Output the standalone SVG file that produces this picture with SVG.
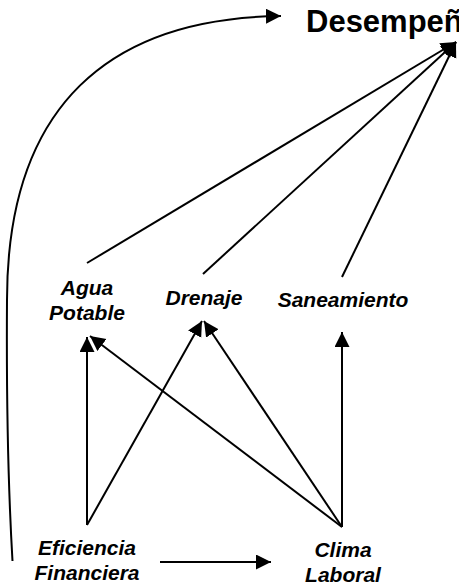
<svg xmlns="http://www.w3.org/2000/svg" width="459" height="586" viewBox="0 0 459 586">
<style>
.lbl{font-family:"Liberation Sans",Arial,sans-serif;font-weight:bold;font-style:italic;font-size:21px;fill:#000;text-anchor:middle}
.title{font-family:"Liberation Sans",Arial,sans-serif;font-weight:bold;font-size:31px;fill:#000}
.c{fill:none;stroke:#000;stroke-width:2}
</style>
<defs>
<marker id="ah" markerUnits="userSpaceOnUse" markerWidth="16" markerHeight="16" refX="15" refY="7.5" orient="auto" viewBox="0 0 16 16">
<path d="M0,0 L15,7.5 L0,15 z" fill="#000"/>
</marker>
</defs>
<rect width="459" height="586" fill="#fff"/>
<g id="connectors">
<path class="c" d="M12.5 561 Q6 450 7 300 C7 105 110 18 281 16" marker-end="url(#ah)"/>
<line class="c" x1="87" y1="263" x2="456" y2="42" marker-end="url(#ah)"/>
<line class="c" x1="203" y1="274" x2="456" y2="42" marker-end="url(#ah)"/>
<line class="c" x1="342" y1="277" x2="456" y2="42" marker-end="url(#ah)"/>
<line class="c" x1="87" y1="525" x2="87" y2="337" marker-end="url(#ah)"/>
<line class="c" x1="87" y1="525" x2="202" y2="321" marker-end="url(#ah)"/>
<line class="c" x1="342" y1="527" x2="90" y2="336" marker-end="url(#ah)"/>
<line class="c" x1="342" y1="527" x2="204" y2="321" marker-end="url(#ah)"/>
<line class="c" x1="342" y1="527" x2="342" y2="332" marker-end="url(#ah)"/>
<line class="c" x1="160" y1="562" x2="271" y2="562" marker-end="url(#ah)"/>
</g>
<g id="desempeno"><text class="title" x="306" y="32">Desempeño</text></g>
<g id="agua"><text class="lbl" x="87" y="295">Agua</text><text class="lbl" x="87" y="320">Potable</text></g>
<g id="drenaje"><text class="lbl" x="204" y="305">Drenaje</text></g>
<g id="saneamiento"><text class="lbl" x="343" y="307">Saneamiento</text></g>
<g id="eficiencia"><text class="lbl" x="87" y="555">Eficiencia</text><text class="lbl" x="87" y="580">Financiera</text></g>
<g id="clima"><text class="lbl" x="343" y="557">Clima</text><text class="lbl" x="343" y="582">Laboral</text></g>
</svg>
